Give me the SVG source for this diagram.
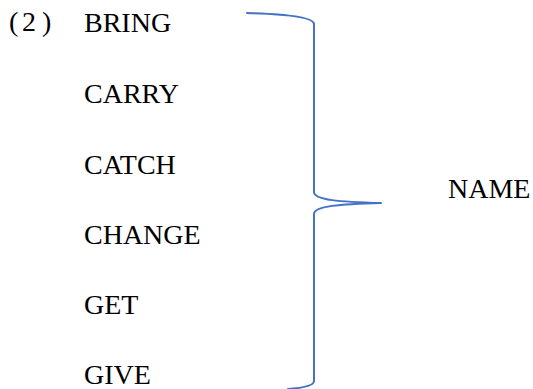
<svg xmlns="http://www.w3.org/2000/svg" width="533" height="389" viewBox="0 0 533 389">
  <style>
    .word { font-family: "Liberation Serif", "Times New Roman", serif; font-size: 28px; fill: #000; }
    .brace { fill: none; stroke: #4472C4; stroke-width: 2; stroke-linecap: round; stroke-linejoin: round; }
  </style>
  <rect width="533" height="389" fill="#fff"/>
  <g id="label-number">
    <text class="word" y="31"><tspan x="9">(</tspan><tspan x="22">2</tspan><tspan x="42">)</tspan></text>
  </g>
  <g id="verb-list">
    <g id="node-bring"><text class="word" x="84" y="32">BRING</text></g>
    <g id="node-carry"><text class="word" x="84" y="103">CARRY</text></g>
    <g id="node-catch"><text class="word" x="84" y="174">CATCH</text></g>
    <g id="node-change"><text class="word" x="84" y="244">CHANGE</text></g>
    <g id="node-get"><text class="word" x="84" y="314">GET</text></g>
    <g id="node-give"><text class="word" x="84" y="384">GIVE</text></g>
  </g>
  <g id="connectors">
    <path class="brace" d="M247,13 C282,14 314,17 314,24 L314,192 C314,200 340,202 381,203 C340,204 314,206 314,214 L314,381 C314,386 302,388 288,389"/>
  </g>
  <g id="node-name"><text class="word" x="448" y="198">NAME</text></g>
</svg>
